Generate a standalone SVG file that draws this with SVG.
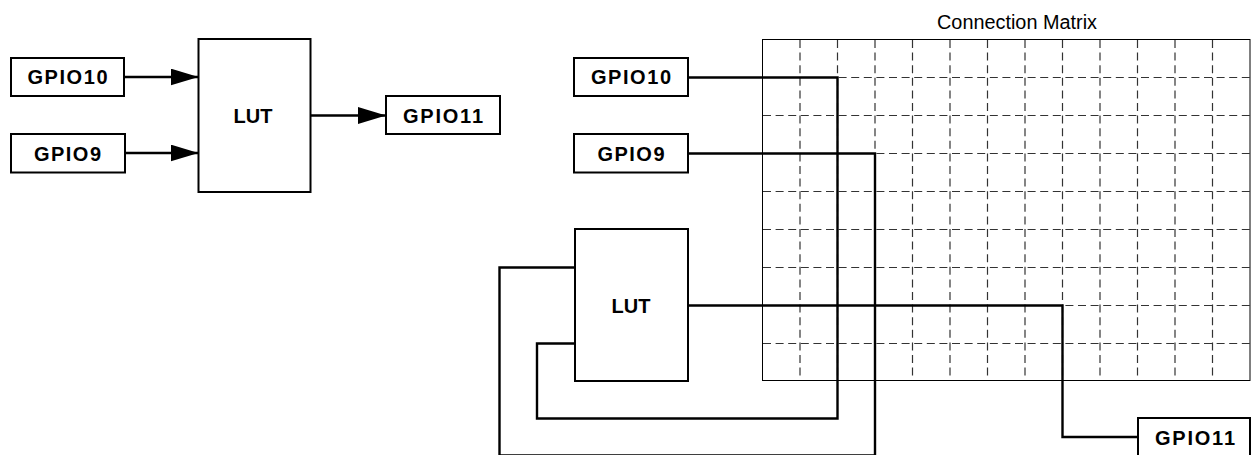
<svg xmlns="http://www.w3.org/2000/svg" width="1252" height="455" viewBox="0 0 1252 455">
<style>
.box{fill:#fff;stroke:#000;stroke-width:2}
.lbl{font-family:"Liberation Sans",Arial,sans-serif;font-weight:bold;font-size:20px;fill:#000;text-anchor:middle}
.ttl{font-family:"Liberation Sans",Arial,sans-serif;font-size:20px;fill:#000;text-anchor:middle}
.wire{fill:none;stroke:#000;stroke-width:2.4}
.gdash{stroke:#333;stroke-width:1.2;stroke-dasharray:8 4.6;fill:none}
.gborder{fill:none;stroke:#000;stroke-width:1}
</style>
<defs>
<marker id="arr" markerUnits="userSpaceOnUse" markerWidth="30" markerHeight="20" refX="28" refY="8.5" orient="auto">
<path d="M0,0 L28,8.5 L0,17 Z" fill="#000"/>
</marker>
</defs>

<!-- Matrix grid -->
<g id="matrix">
<text class="ttl" x="1017" y="28.5" textLength="160" lengthAdjust="spacingAndGlyphs">Connection Matrix</text>
<rect class="gborder" x="762.5" y="39.5" width="487.5" height="341"/>
<g class="gdash">
<path d="M800 40V380M837.5 40V380M875 40V380M912.5 40V380M950 40V380M987.5 40V380M1025 40V380M1062.5 40V380M1100 40V380M1137.5 40V380M1175 40V380M1212.5 40V380"/>
<path d="M763 77.5H1250M763 115.5H1250M763 153.5H1250M763 191.5H1250M763 229.5H1250M763 267.5H1250M763 305.5H1250M763 343.5H1250"/>
</g>
</g>

<!-- Connectors -->
<g id="connectors">
<line class="wire" x1="124" y1="77" x2="198.5" y2="77" marker-end="url(#arr)"/>
<line class="wire" x1="125" y1="153" x2="198.5" y2="153" marker-end="url(#arr)"/>
<line class="wire" x1="310.5" y1="115.5" x2="386" y2="115.5" marker-end="url(#arr)"/>
<path class="wire" d="M688 77.5H837.5V418.5H537V343.5H575"/>
<path class="wire" d="M688 153.5H875V455.5H499.5V267.5H575"/>
<path class="wire" d="M688 305.5H1062.5V437H1138"/>
</g>

<!-- Left diagram -->
<g id="l-gpio10"><rect class="box" x="11" y="58" width="113" height="38"/><text class="lbl" x="67.5" y="84" textLength="80" lengthAdjust="spacing">GPIO10</text></g>
<g id="l-gpio9"><rect class="box" x="11" y="134" width="114" height="38.5"/><text class="lbl" x="67.5" y="160.5" textLength="67" lengthAdjust="spacing">GPIO9</text></g>
<g id="l-lut"><rect class="box" x="198.5" y="39" width="112" height="153"/><text class="lbl" x="253" y="123" textLength="39" lengthAdjust="spacing">LUT</text></g>
<g id="l-gpio11"><rect class="box" x="386" y="96" width="114" height="38"/><text class="lbl" x="443" y="122.5" textLength="80" lengthAdjust="spacing">GPIO11</text></g>

<!-- Right diagram -->
<g id="r-gpio10"><rect class="box" x="574" y="58" width="114" height="38"/><text class="lbl" x="631" y="84" textLength="80" lengthAdjust="spacing">GPIO10</text></g>
<g id="r-gpio9"><rect class="box" x="574" y="134" width="114" height="38.5"/><text class="lbl" x="631" y="160.5" textLength="67" lengthAdjust="spacing">GPIO9</text></g>
<g id="r-lut"><rect class="box" x="575" y="229" width="113" height="152"/><text class="lbl" x="631" y="312.5" textLength="39" lengthAdjust="spacing">LUT</text></g>
<g id="r-gpio11"><rect class="box" x="1138" y="418" width="112" height="40"/><text class="lbl" x="1195" y="444.5" textLength="80" lengthAdjust="spacing">GPIO11</text></g>
</svg>
